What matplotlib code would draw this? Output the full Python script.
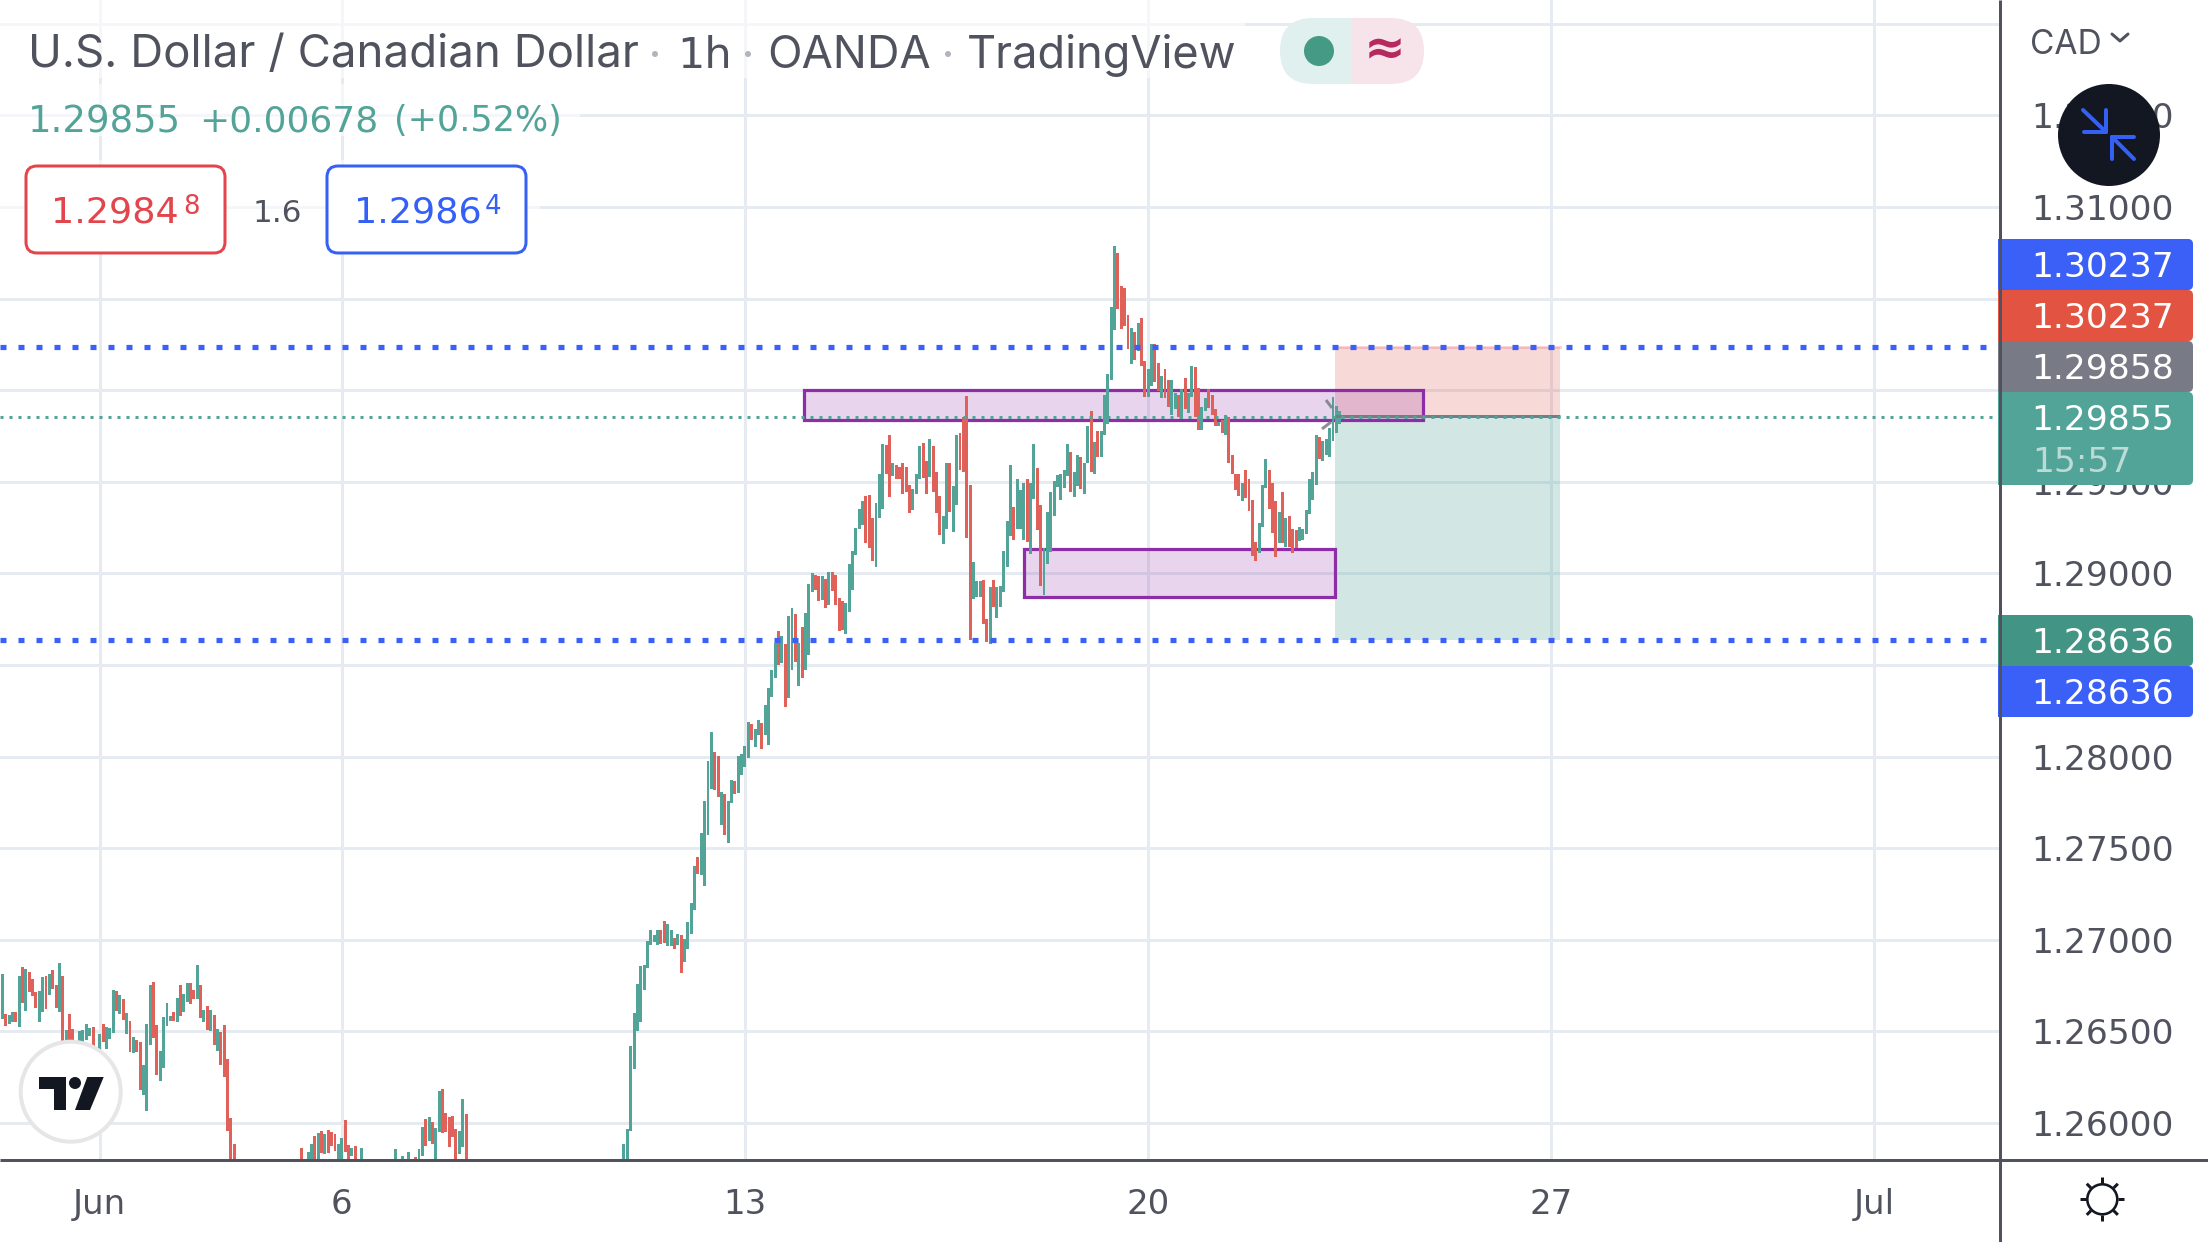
import numpy as np
import matplotlib
matplotlib.use('Agg')
import matplotlib.pyplot as plt
from matplotlib.patches import Rectangle, FancyBboxPatch, Circle, Polygon

plt.rcParams['font.family'] = ['Inter', 'DejaVu Sans']

# hourly bars USDCAD, one entry per bar, range (far end of bar = close)
# bars that run below the visible pane are rough guesses under 1.258
bar_open = [
    1.26569, 1.26593, 1.26538, 1.26549, 1.26604, 1.26522, 1.26849, 1.26609, 1.26822, 1.26784,
    1.26713, 1.26551, 1.26604, 1.26805, 1.26696, 1.26833, 1.26756, 1.26604, 1.26800, 1.26396,
    1.26593, 1.26511, 1.26396, 1.26396, 1.26396, 1.26451, 1.26473, 1.26522, 1.26378, 1.26369,
    1.26538, 1.26402, 1.26456, 1.26489, 1.26718, 1.26593, 1.26675, 1.26484, 1.26555, 1.26380,
    1.26451, 1.26440, 1.26151, 1.26064, 1.26424, 1.26767, 1.26533, 1.26227, 1.26298, 1.26527,
    1.26555, 1.26604, 1.26549, 1.26756, 1.26604, 1.26658, 1.26762, 1.26724, 1.26675, 1.26751,
    1.26549, 1.26636, 1.26500, 1.26587, 1.26391, 1.26495, 1.26533, 1.26347, 1.26025, 1.25884,
    1.2565, 1.2560, 1.2555, 1.2550, 1.2552, 1.2548, 1.2550, 1.2545, 1.2550, 1.2555,
    1.2552, 1.2558, 1.2555, 1.2560, 1.2565, 1.2562, 1.2568, 1.2570, 1.2566, 1.25865,
    1.2572, 1.2575, 1.2576, 1.25931, 1.2574, 1.25958, 1.25833, 1.25964, 1.25953, 1.25942,
    1.2575, 1.2574, 1.26018, 1.25882, 1.25822, 1.25876, 1.2575, 1.2570, 1.2572, 1.2570,
    1.2568, 1.2571, 1.2573, 1.2570, 1.2572, 1.2574, 1.2572, 1.2572, 1.2570, 1.2572,
    1.2572, 1.2574, 1.2574, 1.25816, 1.2574, 1.25822, 1.26024, 1.25904, 1.26007, 1.2572,
    1.25953, 1.26187, 1.26056, 1.26035, 1.2604, 1.25969, 1.25833, 1.25871, 1.26051, 1.2570,
    1.2566, 1.2562, 1.2558, 1.2555, 1.2552, 1.2550, 1.2547, 1.2545, 1.2542, 1.2540,
    1.2543, 1.2545, 1.2541, 1.2538, 1.2536, 1.2539, 1.2542, 1.2540, 1.2537, 1.2535,
    1.2538, 1.2541, 1.2544, 1.2542, 1.2539, 1.2541, 1.2544, 1.2547, 1.2545, 1.2548,
    1.2551, 1.2549, 1.2552, 1.2555, 1.2553, 1.2556, 1.2559, 1.2557, 1.2560, 1.2563,
    1.2561, 1.2564, 1.2566, 1.2568, 1.2567, 1.2570, 1.2575, 1.25956, 1.26295, 1.26500,
    1.26551, 1.26724, 1.26846, 1.26973, 1.26988, 1.26973, 1.27051, 1.27102, 1.26968, 1.26968,
    1.27010, 1.26973, 1.27024, 1.26880, 1.26949, 1.27034, 1.27163, 1.27451, 1.27354, 1.27295,
    1.27573, 1.27822, 1.28024, 1.28002, 1.27624, 1.27795, 1.27527, 1.27749, 1.27866, 1.27802,
    1.27898, 1.27944, 1.27990, 1.28178, 1.28054, 1.28120, 1.28183, 1.28120, 1.28061, 1.28327,
    1.28427, 1.28685, 1.28513, 1.28613, 1.28322, 1.28473, 1.28776, 1.28383, 1.28707, 1.28473,
    1.28555, 1.28898, 1.28989, 1.28984, 1.28855, 1.28971, 1.28826, 1.29009, 1.28989, 1.28867,
    1.28847, 1.28669, 1.28789, 1.28909, 1.29100, 1.29244, 1.29262, 1.29422, 1.29429, 1.29300,
    1.29035, 1.29302, 1.29349, 1.29700, 1.29753, 1.29531, 1.29589, 1.29582, 1.29600, 1.29582,
    1.29480, 1.29345, 1.29431, 1.29518, 1.29713, 1.29611, 1.29524, 1.29698, 1.29556, 1.29420,
    1.29160, 1.29240, 1.29600, 1.29225, 1.29371, 1.29764, 1.29851, 1.29967, 1.29480, 1.28858,
    1.28869, 1.28869, 1.28962, 1.28749, 1.28613, 1.28962, 1.28755, 1.28815, 1.28896, 1.29033,
    1.29204, 1.29360, 1.29245, 1.29240, 1.29185, 1.29513, 1.29104, 1.29404, 1.29578, 1.29371,
    1.28880, 1.29049, 1.29115, 1.29316, 1.29469, 1.29398, 1.29464, 1.29529, 1.29665, 1.29415,
    1.29475, 1.29638, 1.29436, 1.29600, 1.29889, 1.29540, 1.29780, 1.29638, 1.29753, 1.29818,
    1.30055, 1.30327, 1.30751, 1.30571, 1.30560, 1.30413, 1.30145, 1.30320, 1.30216, 1.30396,
    1.30162, 1.29965, 1.30025, 1.30254, 1.30151, 1.29960, 1.30118, 1.30053, 1.29867, 1.29895,
    1.29976, 1.29845, 1.30069, 1.29873, 1.29965, 1.30129, 1.30014, 1.29785, 1.29884, 1.30004,
    1.29976, 1.29895, 1.29802, 1.29840, 1.29758, 1.29856, 1.29649, 1.29545, 1.29545, 1.29393,
    1.29562, 1.29518, 1.29398, 1.29169, 1.29109, 1.29256, 1.29464, 1.29567, 1.29491, 1.29393,
    1.29164, 1.29442, 1.29142, 1.29311, 1.29245, 1.29235, 1.29175, 1.29185, 1.29213, 1.29322,
    1.29398, 1.29485, 1.29747, 1.29616, 1.29649, 1.29638, 1.29720, 1.29769, 1.29818,
]
bar_close = [
    1.26816, 1.26527, 1.26587, 1.26604, 1.26549, 1.26805, 1.26653, 1.26838, 1.26713, 1.26691,
    1.26625, 1.26718, 1.26795, 1.26620, 1.26816, 1.26729, 1.26625, 1.26871, 1.26396, 1.26505,
    1.26424, 1.26396, 1.26447, 1.26500, 1.26505, 1.26538, 1.26516, 1.26396, 1.26415, 1.26484,
    1.26442, 1.26522, 1.26516, 1.26724, 1.26609, 1.26696, 1.26560, 1.26598, 1.26385, 1.26467,
    1.26385, 1.26178, 1.26315, 1.26538, 1.26751, 1.26462, 1.26260, 1.26391, 1.26576, 1.26653,
    1.26582, 1.26555, 1.26685, 1.26582, 1.26702, 1.26762, 1.26647, 1.26675, 1.26860, 1.26571,
    1.26615, 1.26505, 1.26615, 1.26424, 1.26511, 1.26315, 1.26249, 1.25955, 1.2575, 1.2565,
    1.2560, 1.2555, 1.2550, 1.2552, 1.2548, 1.2550, 1.2545, 1.2550, 1.2555, 1.2552,
    1.2558, 1.2555, 1.2560, 1.2565, 1.2562, 1.2568, 1.2570, 1.2566, 1.2572, 1.2572,
    1.2574, 1.25844, 1.25887, 1.2574, 1.25947, 1.25838, 1.25942, 1.25838, 1.25876, 1.25849,
    1.25887, 1.25920, 1.25844, 1.2572, 1.25865, 1.2575, 1.2572, 1.25865, 1.2570, 1.2568,
    1.2571, 1.2573, 1.2570, 1.2572, 1.2574, 1.2572, 1.2570, 1.25860, 1.2574, 1.25822,
    1.2575, 1.25844, 1.2576, 1.2574, 1.25860, 1.25980, 1.25876, 1.26035, 1.25887, 1.25975,
    1.26176, 1.25947, 1.25953, 1.25871, 1.25925, 1.2574, 1.25958, 1.26133, 1.2572, 1.2566,
    1.2562, 1.2558, 1.2555, 1.2552, 1.2550, 1.2547, 1.2545, 1.2542, 1.2540, 1.2543,
    1.2545, 1.2541, 1.2538, 1.2536, 1.2539, 1.2542, 1.2540, 1.2537, 1.2535, 1.2538,
    1.2541, 1.2544, 1.2542, 1.2539, 1.2541, 1.2544, 1.2547, 1.2545, 1.2548, 1.2551,
    1.2549, 1.2552, 1.2555, 1.2553, 1.2556, 1.2559, 1.2557, 1.2560, 1.2563, 1.2561,
    1.2564, 1.2566, 1.2568, 1.2567, 1.2569, 1.25888, 1.25968, 1.26420, 1.26598, 1.26761,
    1.26856, 1.26863, 1.26993, 1.27056, 1.27024, 1.27054, 1.26978, 1.26980, 1.27085, 1.27054,
    1.26951, 1.27029, 1.26820, 1.27002, 1.27095, 1.27200, 1.27402, 1.27359, 1.27583, 1.27759,
    1.27976, 1.28134, 1.27817, 1.27780, 1.27807, 1.27573, 1.27759, 1.27873, 1.27798, 1.28002,
    1.28015, 1.28059, 1.28188, 1.28090, 1.28149, 1.28200, 1.28044, 1.28283, 1.28376, 1.28471,
    1.28620, 1.28498, 1.28658, 1.28273, 1.28767, 1.28813, 1.28516, 1.28618, 1.28427, 1.28782,
    1.28940, 1.29004, 1.28909, 1.28849, 1.28984, 1.28811, 1.29009, 1.28902, 1.28826, 1.28686,
    1.28691, 1.28836, 1.29049, 1.29124, 1.29249, 1.29353, 1.29393, 1.29164, 1.29138, 1.29067,
    1.29385, 1.29544, 1.29704, 1.29540, 1.29416, 1.29600, 1.29513, 1.29513, 1.29436, 1.29447,
    1.29327, 1.29462, 1.29545, 1.29698, 1.29520, 1.29436, 1.29731, 1.29447, 1.29327, 1.29207,
    1.29316, 1.29600, 1.29333, 1.29475, 1.29758, 1.29567, 1.29551, 1.29193, 1.28635, 1.29060,
    1.28956, 1.28956, 1.28722, 1.28624, 1.28924, 1.28815, 1.28924, 1.28929, 1.29120, 1.29284,
    1.29589, 1.29185, 1.29518, 1.29453, 1.29496, 1.29169, 1.29495, 1.29709, 1.29235, 1.28929,
    1.29136, 1.29333, 1.29442, 1.29507, 1.29535, 1.29540, 1.29562, 1.29704, 1.29442, 1.29556,
    1.29644, 1.29458, 1.29605, 1.29802, 1.29556, 1.29715, 1.29633, 1.29780, 1.29976, 1.30091,
    1.30456, 1.30789, 1.30445, 1.30336, 1.30353, 1.30227, 1.30342, 1.30167, 1.30369, 1.30134,
    1.29965, 1.30113, 1.30254, 1.30047, 1.29993, 1.30080, 1.29960, 1.29911, 1.30053, 1.29987,
    1.29856, 1.30004, 1.29895, 1.29987, 1.30134, 1.29851, 1.29785, 1.29911, 1.29960, 1.29905,
    1.29867, 1.29802, 1.29824, 1.29769, 1.29862, 1.29600, 1.29540, 1.29453, 1.29425, 1.29496,
    1.29409, 1.29338, 1.29093, 1.29065, 1.29273, 1.29480, 1.29627, 1.29349, 1.29218, 1.29087,
    1.29333, 1.29164, 1.29300, 1.29142, 1.29109, 1.29136, 1.29251, 1.29240, 1.29344, 1.29513,
    1.29556, 1.29753, 1.29627, 1.29725, 1.29731, 1.29791, 1.29965, 1.29916, 1.29884,
]
assert len(bar_open) == len(bar_close)

# date ticks, in bars from the left edge (24 bars a weekday)
date_ticks = [29, 101, 221, 341, 461, 557]
date_labels = ['Jun', '6', '13', '20', '27', 'Jul']
price_ticks = [1.26, 1.265, 1.27, 1.275, 1.28, 1.285, 1.29, 1.295, 1.30, 1.305, 1.31, 1.315, 1.32]
# 1.30 and 1.305 sit fully behind the price tags, 1.32 is where CAD sits
price_labels = ['1.26000', '1.26500', '1.27000', '1.27500', '1.28000', '1.28500', '1.29000',
                '1.29500', '', '', '1.31000', '1.31500', '']

stop_price = 1.30237
entry_price = 1.29858
target_price = 1.28636
last_price = 1.29855
zone_upper = [238.6, 422.8, 1.29840, 1.30000]
zone_lower = [303.9, 396.6, 1.28873, 1.29135]
position_span = [396.6, 463.6]

TEAL = '#52A398'
RED = '#E0605A'
BLUE = '#3A60F8'
PURPLE = '#8E2DA8'
GREY = '#50535E'
GRID = '#E6EBF1'
INK = '#131722'
NUM_FONT = 'DejaVu Sans'  # wide digits, close to the spaced numerals of the chart


def px(n):
    return n * 0.72


fig = plt.figure(figsize=(22.08, 12.42), dpi=100, facecolor='white')
ax = fig.add_axes([0, (1242 - 1159) / 1242, 1999 / 2208, 1159 / 1242])
ax.set_xlim(-0.693, 594.2)
ax.set_ylim(1.31 - 952 / 18320, 1.31 + 207 / 18320)
for s in ax.spines.values():
    s.set_visible(False)

ax.set_axisbelow(True)
ax.grid(True, color=GRID, lw=px(3))
ax.set_xticks(date_ticks)
ax.set_xticklabels(date_labels, fontsize=px(34), color=GREY, family=NUM_FONT)
ax.yaxis.tick_right()
ax.set_yticks(price_ticks)
ax.set_yticklabels(price_labels, fontsize=px(34.5), color=GREY, family=NUM_FONT)
plt.setp(ax.get_yticklabels(), ha='right')
ax.tick_params(axis='y', length=0, pad=px(175))
ax.tick_params(axis='x', length=0, pad=px(29))

# position tool
ax.axhspan(entry_price, stop_price, *[(v + 0.693) / 594.893 for v in position_span],
           color=RED, alpha=0.24, lw=0, zorder=1.5)
ax.axhspan(target_price, entry_price, *[(v + 0.693) / 594.893 for v in position_span],
           color=TEAL, alpha=0.26, lw=0, zorder=1.5)
ax.plot(position_span, [stop_price, stop_price], color=RED, alpha=0.25, lw=px(3), zorder=1.6)

# zones
for left, right, low, high in [zone_upper, zone_lower]:
    ax.add_patch(Rectangle((left, low), right - left, high - low, facecolor=PURPLE, alpha=0.2,
                           edgecolor='none', zorder=1.7))
    ax.add_patch(Rectangle((left, low), right - left, high - low, facecolor='none',
                           edgecolor=PURPLE, lw=px(3.2), zorder=1.8))

opens = np.array(bar_open)
closes = np.array(bar_close)
xs = np.arange(len(opens))
colors = [TEAL if c >= o else RED for o, c in zip(opens, closes)]
ax.bar(xs, closes - opens, bottom=opens, width=0.88, color=colors, lw=0, zorder=3)

ax.plot(position_span, [entry_price, entry_price], color='#787B86', lw=px(3), zorder=3.5,
        solid_capstyle='butt')

# horizontal lines, dash phase starts at the left edge
edge = ax.get_yaxis_transform()
for level in [stop_price, target_price]:
    ax.plot([0, 1986 / 1999], [level, level], transform=edge, color=BLUE, lw=px(5.2),
            ls=(0, (6 / 5.2, 12 / 5.2)), dash_capstyle='butt', zorder=4)
ax.plot([0, 1992 / 1999], [last_price, last_price], transform=edge, color=TEAL, lw=px(3),
        ls=(0, (1, 2)), dash_capstyle='butt', zorder=4)

# everything below sits on a pixel overlay: legend, price tags, buttons
ui = fig.add_axes([0, 0, 1, 1], zorder=5)
ui.set_xlim(0, 2208)
ui.set_ylim(1242, 0)
ui.axis('off')
ui.patch.set_alpha(0)

# veil behind the legend
ui.add_patch(Rectangle((0, 0), 1245, 78, color='white', alpha=0.6, lw=0))
ui.add_patch(Rectangle((0, 84), 580, 52, color='white', alpha=0.6, lw=0))
ui.add_patch(Rectangle((0, 160), 540, 95, color='white', alpha=0.6, lw=0))


def label(x, y, s, size, color, ha='left', **kw):
    ui.text(x, y, s, fontsize=px(size), color=color, ha=ha, va='center_baseline', **kw)


label(28, 51, 'U.S. Dollar / Canadian Dollar', 45.6, GREY)
label(677, 51, '1h', 43, GREY, family=NUM_FONT)
label(767, 51, 'OANDA', 45.2, GREY)
label(967, 51, 'TradingView', 45.2, GREY)
for x_dot in [655, 748, 948]:
    ui.add_patch(Circle((x_dot, 54), 3, color='#B2B5BE', lw=0))

label(28, 118, '1.29855', 37, TEAL, family=NUM_FONT)
label(199, 118, '+0.00678', 36, TEAL, family=NUM_FONT)
label(394, 118, '(+0.52%)', 35, TEAL, family=NUM_FONT)

for x0, x1, col in [(26, 225, '#E2454B'), (327, 526, '#3560F5')]:
    ui.add_patch(FancyBboxPatch((x0 + 10, 176), x1 - x0 - 20, 67, boxstyle='round,pad=10,rounding_size=11',
                                facecolor='white', edgecolor=col, lw=px(3)))
label(51, 209, '1.2984', 36.5, '#E2454B', family=NUM_FONT)
label(183, 204, '8', 26, '#E2454B', family=NUM_FONT)
label(354, 209, '1.2986', 36.5, '#3560F5', family=NUM_FONT)
label(485, 204, '4', 26, '#3560F5', family=NUM_FONT)
label(253, 210, '1.6', 31, GREY, family=NUM_FONT)

# market status pill
pill = FancyBboxPatch((1313, 51), 78, 0, boxstyle='round,pad=33', facecolor='#F7E4EB', edgecolor='none')
ui.add_patch(pill)
pill.set_clip_path(Rectangle((1352, 0), 100, 100, transform=ui.transData))
left_pill = FancyBboxPatch((1313, 51), 78, 0, boxstyle='round,pad=33', facecolor='#E0F0EE', edgecolor='none')
ui.add_patch(left_pill)
left_pill.set_clip_path(Rectangle((1270, 0), 82, 100, transform=ui.transData))
ui.add_patch(Circle((1319, 51), 15, color='#459A85', lw=0))
ui.text(1385, 50, '≈', fontsize=px(50), color='#B5295E', ha='center', va='center',
        family=NUM_FONT, fontweight='bold')

# axis frame
ui.plot([0, 2208], [1159.5, 1159.5], color=GREY, lw=px(3), solid_capstyle='butt')
ui.plot([1999.5, 1999.5], [0, 1242], color=GREY, lw=px(3), solid_capstyle='butt')

label(2030, 42, 'CAD', 33.5, GREY)
ui.plot([2112, 2120, 2128], [34, 41, 34], color=GREY, lw=px(3), solid_capstyle='round')

# price tags
tags = [
    (239, 290, BLUE, '1.30237'),
    (290, 341, '#E25441', '1.30237'),
    (341, 392, '#787B86', '1.29858'),
    (392, 485, TEAL, '1.29855'),
    (615, 666, '#429585', '1.28636'),
    (666, 717, BLUE, '1.28636'),
]
for top, bottom, col, txt in tags:
    ui.add_patch(FancyBboxPatch((2003, top + 5), 185, bottom - top - 10, boxstyle='round,pad=5',
                                facecolor=col, edgecolor='none'))
    ui.add_patch(Rectangle((1998, top), 12, bottom - top, facecolor=col, edgecolor='none'))
    ui.text(2174, top + 25, txt, fontsize=px(34.5), color='white', ha='right', va='center_baseline',
            family=NUM_FONT)
ui.text(2032, 459, '15:57', fontsize=px(34.5), color='white', alpha=0.62, ha='left', va='center_baseline',
        family=NUM_FONT)

# collapse button
ui.add_patch(Circle((2109, 135), 51, color=INK, lw=0))
for seg in [[(2083, 110), (2106, 132)], [(2106, 110), (2106, 132)], [(2084, 132), (2106, 132)],
            [(2134, 159), (2112, 137)], [(2112, 159), (2112, 137)], [(2134, 137), (2112, 137)]]:
    ui.plot(*zip(*seg), color='#3560F5', lw=px(4), solid_capstyle='round')

# arrow marker at the last bar
for seg in [[(1326, 400), (1332, 408)], [(1322, 429), (1331, 422)]]:
    ui.plot(*zip(*seg), color='#787B86', lw=px(3), alpha=0.85, solid_capstyle='butt')

# logo
ui.add_patch(Circle((70.7, 1091.7), 50, facecolor='white', edgecolor='#E6E6E8', lw=px(4)))
ui.add_patch(Polygon([(39, 1077), (65.7, 1077), (65.7, 1110), (53.7, 1110), (53.7, 1089), (39, 1089)],
                     facecolor=INK, edgecolor='none'))
ui.add_patch(Circle((75, 1083), 6, color=INK, lw=0))
ui.add_patch(Polygon([(87.3, 1077), (103.7, 1077), (90, 1110), (75, 1110)], facecolor=INK, edgecolor='none'))

# theme icon
ui.add_patch(Circle((2102.3, 1199.3), 15, facecolor='white', edgecolor=INK, lw=px(2.6)))
for ang in np.deg2rad(np.arange(0, 360, 45)):
    ui.plot([2102.3 + 16 * np.cos(ang), 2102.3 + 22 * np.cos(ang)],
            [1199.3 + 16 * np.sin(ang), 1199.3 + 22 * np.sin(ang)], color=INK, lw=px(3), solid_capstyle='butt')

fig.savefig('out.png', dpi=100)
